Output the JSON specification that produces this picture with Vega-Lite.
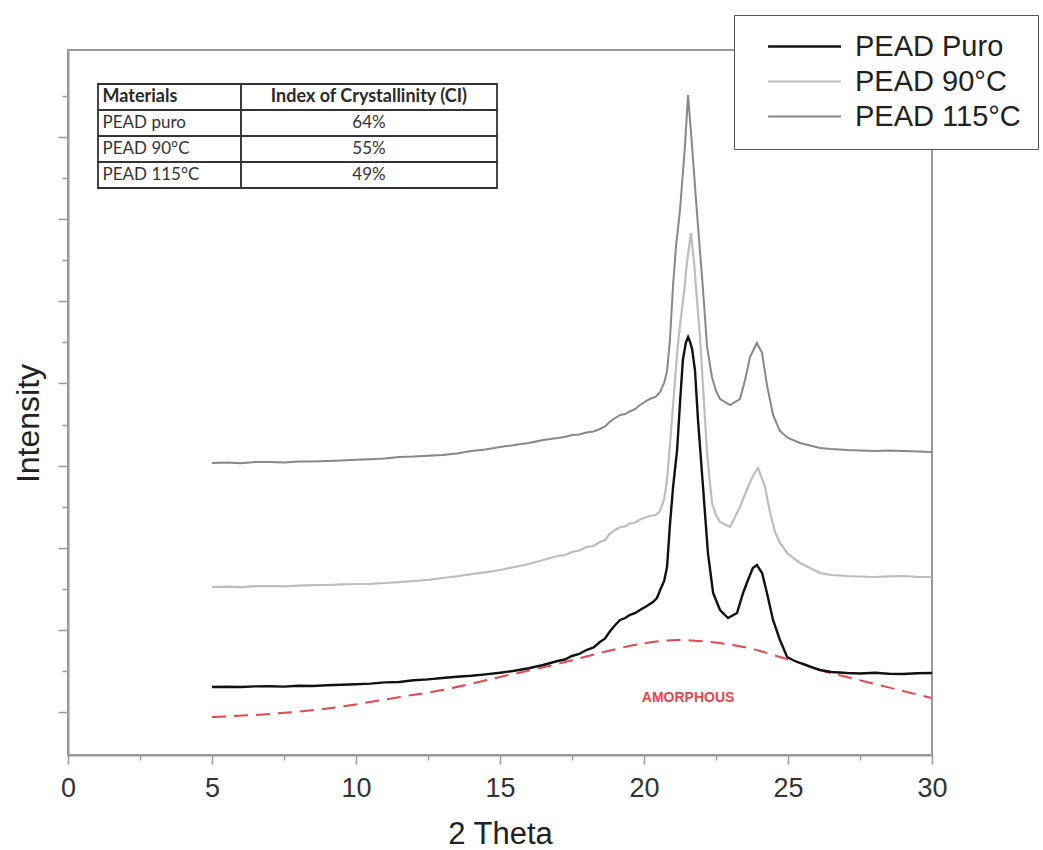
{
  "$schema": "https://vega.github.io/schema/vega-lite/v6.json",
  "width": 864,
  "height": 705,
  "autosize": "none",
  "padding": {"left": 68, "top": 50, "right": 111, "bottom": 95},
  "config": {
    "view": {"stroke": "#999999", "strokeWidth": 2},
    "font": "Liberation Sans"
  },
  "datasets": {
    "xrd": [
      {"series": "PEAD Puro", "theta": 5.0, "intensity": 680},
      {"series": "PEAD Puro", "theta": 5.5, "intensity": 683},
      {"series": "PEAD Puro", "theta": 6.0, "intensity": 680},
      {"series": "PEAD Puro", "theta": 6.5, "intensity": 686},
      {"series": "PEAD Puro", "theta": 7.0, "intensity": 688},
      {"series": "PEAD Puro", "theta": 7.5, "intensity": 684},
      {"series": "PEAD Puro", "theta": 8.0, "intensity": 692},
      {"series": "PEAD Puro", "theta": 8.5, "intensity": 690},
      {"series": "PEAD Puro", "theta": 9.0, "intensity": 698},
      {"series": "PEAD Puro", "theta": 9.5, "intensity": 702},
      {"series": "PEAD Puro", "theta": 10.0, "intensity": 708},
      {"series": "PEAD Puro", "theta": 10.5, "intensity": 714},
      {"series": "PEAD Puro", "theta": 11.0, "intensity": 726},
      {"series": "PEAD Puro", "theta": 11.5, "intensity": 730},
      {"series": "PEAD Puro", "theta": 12.0, "intensity": 748},
      {"series": "PEAD Puro", "theta": 12.5, "intensity": 756},
      {"series": "PEAD Puro", "theta": 13.0, "intensity": 770},
      {"series": "PEAD Puro", "theta": 13.5, "intensity": 782},
      {"series": "PEAD Puro", "theta": 14.0, "intensity": 792},
      {"series": "PEAD Puro", "theta": 14.5, "intensity": 806},
      {"series": "PEAD Puro", "theta": 15.0, "intensity": 822},
      {"series": "PEAD Puro", "theta": 15.5, "intensity": 842},
      {"series": "PEAD Puro", "theta": 16.0, "intensity": 868},
      {"series": "PEAD Puro", "theta": 16.5, "intensity": 900},
      {"series": "PEAD Puro", "theta": 17.0, "intensity": 940},
      {"series": "PEAD Puro", "theta": 17.25, "intensity": 955},
      {"series": "PEAD Puro", "theta": 17.5, "intensity": 990},
      {"series": "PEAD Puro", "theta": 17.75, "intensity": 1010},
      {"series": "PEAD Puro", "theta": 18.0, "intensity": 1050},
      {"series": "PEAD Puro", "theta": 18.25, "intensity": 1075},
      {"series": "PEAD Puro", "theta": 18.47, "intensity": 1130},
      {"series": "PEAD Puro", "theta": 18.65, "intensity": 1165},
      {"series": "PEAD Puro", "theta": 18.8, "intensity": 1230},
      {"series": "PEAD Puro", "theta": 19.0, "intensity": 1300},
      {"series": "PEAD Puro", "theta": 19.17, "intensity": 1350},
      {"series": "PEAD Puro", "theta": 19.35, "intensity": 1370},
      {"series": "PEAD Puro", "theta": 19.5, "intensity": 1400},
      {"series": "PEAD Puro", "theta": 19.7, "intensity": 1420},
      {"series": "PEAD Puro", "theta": 19.86, "intensity": 1450},
      {"series": "PEAD Puro", "theta": 20.1, "intensity": 1490},
      {"series": "PEAD Puro", "theta": 20.31, "intensity": 1530},
      {"series": "PEAD Puro", "theta": 20.45, "intensity": 1570},
      {"series": "PEAD Puro", "theta": 20.56, "intensity": 1650},
      {"series": "PEAD Puro", "theta": 20.7, "intensity": 1740},
      {"series": "PEAD Puro", "theta": 20.8, "intensity": 1880},
      {"series": "PEAD Puro", "theta": 20.9, "intensity": 2300},
      {"series": "PEAD Puro", "theta": 21.01, "intensity": 2680},
      {"series": "PEAD Puro", "theta": 21.15, "intensity": 3050},
      {"series": "PEAD Puro", "theta": 21.25, "intensity": 3520},
      {"series": "PEAD Puro", "theta": 21.35, "intensity": 3950},
      {"series": "PEAD Puro", "theta": 21.45, "intensity": 4120},
      {"series": "PEAD Puro", "theta": 21.53, "intensity": 4180},
      {"series": "PEAD Puro", "theta": 21.6, "intensity": 4130},
      {"series": "PEAD Puro", "theta": 21.67, "intensity": 4060},
      {"series": "PEAD Puro", "theta": 21.77, "intensity": 3850},
      {"series": "PEAD Puro", "theta": 21.875, "intensity": 3350},
      {"series": "PEAD Puro", "theta": 22.05, "intensity": 2680},
      {"series": "PEAD Puro", "theta": 22.22, "intensity": 2020},
      {"series": "PEAD Puro", "theta": 22.4, "intensity": 1620},
      {"series": "PEAD Puro", "theta": 22.64, "intensity": 1450},
      {"series": "PEAD Puro", "theta": 22.92, "intensity": 1370},
      {"series": "PEAD Puro", "theta": 23.23, "intensity": 1420},
      {"series": "PEAD Puro", "theta": 23.44, "intensity": 1620},
      {"series": "PEAD Puro", "theta": 23.61, "intensity": 1750},
      {"series": "PEAD Puro", "theta": 23.78, "intensity": 1870},
      {"series": "PEAD Puro", "theta": 23.92, "intensity": 1900},
      {"series": "PEAD Puro", "theta": 24.1, "intensity": 1820},
      {"series": "PEAD Puro", "theta": 24.27, "intensity": 1620},
      {"series": "PEAD Puro", "theta": 24.48, "intensity": 1350},
      {"series": "PEAD Puro", "theta": 24.72, "intensity": 1150},
      {"series": "PEAD Puro", "theta": 24.97, "intensity": 980},
      {"series": "PEAD Puro", "theta": 25.2, "intensity": 945},
      {"series": "PEAD Puro", "theta": 25.42, "intensity": 920},
      {"series": "PEAD Puro", "theta": 25.8, "intensity": 880},
      {"series": "PEAD Puro", "theta": 26.11, "intensity": 850},
      {"series": "PEAD Puro", "theta": 26.5, "intensity": 830},
      {"series": "PEAD Puro", "theta": 27.05, "intensity": 820},
      {"series": "PEAD Puro", "theta": 27.5, "intensity": 815},
      {"series": "PEAD Puro", "theta": 28.02, "intensity": 822},
      {"series": "PEAD Puro", "theta": 28.5, "intensity": 812},
      {"series": "PEAD Puro", "theta": 28.99, "intensity": 810},
      {"series": "PEAD Puro", "theta": 29.5, "intensity": 818},
      {"series": "PEAD Puro", "theta": 30.0, "intensity": 820},

      {"series": "PEAD 90°C", "theta": 5.0, "intensity": 1680},
      {"series": "PEAD 90°C", "theta": 5.5, "intensity": 1684},
      {"series": "PEAD 90°C", "theta": 6.0, "intensity": 1678},
      {"series": "PEAD 90°C", "theta": 6.5, "intensity": 1688},
      {"series": "PEAD 90°C", "theta": 7.0, "intensity": 1690},
      {"series": "PEAD 90°C", "theta": 7.5, "intensity": 1686},
      {"series": "PEAD 90°C", "theta": 8.0, "intensity": 1694},
      {"series": "PEAD 90°C", "theta": 8.5, "intensity": 1698},
      {"series": "PEAD 90°C", "theta": 9.0, "intensity": 1700},
      {"series": "PEAD 90°C", "theta": 9.5, "intensity": 1706},
      {"series": "PEAD 90°C", "theta": 10.0, "intensity": 1710},
      {"series": "PEAD 90°C", "theta": 10.5, "intensity": 1712},
      {"series": "PEAD 90°C", "theta": 11.0, "intensity": 1720},
      {"series": "PEAD 90°C", "theta": 11.5, "intensity": 1728},
      {"series": "PEAD 90°C", "theta": 12.0, "intensity": 1740},
      {"series": "PEAD 90°C", "theta": 12.5, "intensity": 1752},
      {"series": "PEAD 90°C", "theta": 13.0, "intensity": 1770},
      {"series": "PEAD 90°C", "theta": 13.5, "intensity": 1786},
      {"series": "PEAD 90°C", "theta": 14.0, "intensity": 1808},
      {"series": "PEAD 90°C", "theta": 14.5, "intensity": 1826},
      {"series": "PEAD 90°C", "theta": 15.0, "intensity": 1850},
      {"series": "PEAD 90°C", "theta": 15.5, "intensity": 1880},
      {"series": "PEAD 90°C", "theta": 16.0, "intensity": 1910},
      {"series": "PEAD 90°C", "theta": 16.5, "intensity": 1950},
      {"series": "PEAD 90°C", "theta": 17.0, "intensity": 1990},
      {"series": "PEAD 90°C", "theta": 17.25, "intensity": 2000},
      {"series": "PEAD 90°C", "theta": 17.5, "intensity": 2030},
      {"series": "PEAD 90°C", "theta": 17.75, "intensity": 2045},
      {"series": "PEAD 90°C", "theta": 18.0, "intensity": 2080},
      {"series": "PEAD 90°C", "theta": 18.25, "intensity": 2090},
      {"series": "PEAD 90°C", "theta": 18.47, "intensity": 2130},
      {"series": "PEAD 90°C", "theta": 18.65, "intensity": 2150},
      {"series": "PEAD 90°C", "theta": 18.8, "intensity": 2210},
      {"series": "PEAD 90°C", "theta": 19.0, "intensity": 2250},
      {"series": "PEAD 90°C", "theta": 19.17, "intensity": 2280},
      {"series": "PEAD 90°C", "theta": 19.35, "intensity": 2285},
      {"series": "PEAD 90°C", "theta": 19.5, "intensity": 2315},
      {"series": "PEAD 90°C", "theta": 19.7, "intensity": 2325},
      {"series": "PEAD 90°C", "theta": 19.86, "intensity": 2355},
      {"series": "PEAD 90°C", "theta": 20.2, "intensity": 2390},
      {"series": "PEAD 90°C", "theta": 20.4, "intensity": 2400},
      {"series": "PEAD 90°C", "theta": 20.56, "intensity": 2440},
      {"series": "PEAD 90°C", "theta": 20.7, "intensity": 2560},
      {"series": "PEAD 90°C", "theta": 20.8, "intensity": 2750},
      {"series": "PEAD 90°C", "theta": 20.97, "intensity": 3350},
      {"series": "PEAD 90°C", "theta": 21.15, "intensity": 4020},
      {"series": "PEAD 90°C", "theta": 21.25, "intensity": 4300},
      {"series": "PEAD 90°C", "theta": 21.39, "intensity": 4620},
      {"series": "PEAD 90°C", "theta": 21.49, "intensity": 4920},
      {"series": "PEAD 90°C", "theta": 21.63, "intensity": 5220},
      {"series": "PEAD 90°C", "theta": 21.74, "intensity": 4920},
      {"series": "PEAD 90°C", "theta": 21.84, "intensity": 4550},
      {"series": "PEAD 90°C", "theta": 21.94, "intensity": 4200},
      {"series": "PEAD 90°C", "theta": 22.05, "intensity": 3680},
      {"series": "PEAD 90°C", "theta": 22.19, "intensity": 3020},
      {"series": "PEAD 90°C", "theta": 22.36, "intensity": 2520},
      {"series": "PEAD 90°C", "theta": 22.5, "intensity": 2400},
      {"series": "PEAD 90°C", "theta": 22.64, "intensity": 2330},
      {"series": "PEAD 90°C", "theta": 22.99, "intensity": 2280},
      {"series": "PEAD 90°C", "theta": 23.33, "intensity": 2480},
      {"series": "PEAD 90°C", "theta": 23.61, "intensity": 2680},
      {"series": "PEAD 90°C", "theta": 23.8, "intensity": 2800},
      {"series": "PEAD 90°C", "theta": 23.96, "intensity": 2870},
      {"series": "PEAD 90°C", "theta": 24.2, "intensity": 2680},
      {"series": "PEAD 90°C", "theta": 24.38, "intensity": 2420},
      {"series": "PEAD 90°C", "theta": 24.55, "intensity": 2230},
      {"series": "PEAD 90°C", "theta": 24.72, "intensity": 2120},
      {"series": "PEAD 90°C", "theta": 25.0, "intensity": 2010},
      {"series": "PEAD 90°C", "theta": 25.42, "intensity": 1920},
      {"series": "PEAD 90°C", "theta": 26.11, "intensity": 1820},
      {"series": "PEAD 90°C", "theta": 26.5, "intensity": 1800},
      {"series": "PEAD 90°C", "theta": 27.05, "intensity": 1790},
      {"series": "PEAD 90°C", "theta": 27.5, "intensity": 1785},
      {"series": "PEAD 90°C", "theta": 28.02, "intensity": 1780},
      {"series": "PEAD 90°C", "theta": 28.5, "intensity": 1786},
      {"series": "PEAD 90°C", "theta": 28.99, "intensity": 1790},
      {"series": "PEAD 90°C", "theta": 29.5, "intensity": 1782},
      {"series": "PEAD 90°C", "theta": 30.0, "intensity": 1780},

      {"series": "PEAD 115°C", "theta": 5.0, "intensity": 2920},
      {"series": "PEAD 115°C", "theta": 5.5, "intensity": 2925},
      {"series": "PEAD 115°C", "theta": 6.0, "intensity": 2918},
      {"series": "PEAD 115°C", "theta": 6.5, "intensity": 2930},
      {"series": "PEAD 115°C", "theta": 7.0, "intensity": 2930},
      {"series": "PEAD 115°C", "theta": 7.5, "intensity": 2926},
      {"series": "PEAD 115°C", "theta": 8.0, "intensity": 2936},
      {"series": "PEAD 115°C", "theta": 8.5, "intensity": 2934},
      {"series": "PEAD 115°C", "theta": 9.0, "intensity": 2940},
      {"series": "PEAD 115°C", "theta": 9.5, "intensity": 2946},
      {"series": "PEAD 115°C", "theta": 10.0, "intensity": 2952},
      {"series": "PEAD 115°C", "theta": 10.5, "intensity": 2958},
      {"series": "PEAD 115°C", "theta": 11.0, "intensity": 2966},
      {"series": "PEAD 115°C", "theta": 11.5, "intensity": 2980},
      {"series": "PEAD 115°C", "theta": 12.0, "intensity": 2984},
      {"series": "PEAD 115°C", "theta": 12.5, "intensity": 2992},
      {"series": "PEAD 115°C", "theta": 13.0, "intensity": 3000},
      {"series": "PEAD 115°C", "theta": 13.5, "intensity": 3016},
      {"series": "PEAD 115°C", "theta": 14.0, "intensity": 3040},
      {"series": "PEAD 115°C", "theta": 14.5, "intensity": 3056},
      {"series": "PEAD 115°C", "theta": 15.0, "intensity": 3080},
      {"series": "PEAD 115°C", "theta": 15.5, "intensity": 3100},
      {"series": "PEAD 115°C", "theta": 16.0, "intensity": 3120},
      {"series": "PEAD 115°C", "theta": 16.5, "intensity": 3150},
      {"series": "PEAD 115°C", "theta": 17.0, "intensity": 3170},
      {"series": "PEAD 115°C", "theta": 17.25, "intensity": 3180},
      {"series": "PEAD 115°C", "theta": 17.5, "intensity": 3200},
      {"series": "PEAD 115°C", "theta": 17.75, "intensity": 3205},
      {"series": "PEAD 115°C", "theta": 18.0, "intensity": 3225},
      {"series": "PEAD 115°C", "theta": 18.25, "intensity": 3235},
      {"series": "PEAD 115°C", "theta": 18.47, "intensity": 3260},
      {"series": "PEAD 115°C", "theta": 18.65, "intensity": 3285},
      {"series": "PEAD 115°C", "theta": 18.8, "intensity": 3330},
      {"series": "PEAD 115°C", "theta": 19.0, "intensity": 3370},
      {"series": "PEAD 115°C", "theta": 19.17, "intensity": 3400},
      {"series": "PEAD 115°C", "theta": 19.35, "intensity": 3410},
      {"series": "PEAD 115°C", "theta": 19.5, "intensity": 3435},
      {"series": "PEAD 115°C", "theta": 19.7, "intensity": 3460},
      {"series": "PEAD 115°C", "theta": 19.86, "intensity": 3500},
      {"series": "PEAD 115°C", "theta": 20.2, "intensity": 3560},
      {"series": "PEAD 115°C", "theta": 20.4, "intensity": 3580},
      {"series": "PEAD 115°C", "theta": 20.56, "intensity": 3630},
      {"series": "PEAD 115°C", "theta": 20.7, "intensity": 3720},
      {"series": "PEAD 115°C", "theta": 20.8, "intensity": 3840},
      {"series": "PEAD 115°C", "theta": 20.9, "intensity": 4150},
      {"series": "PEAD 115°C", "theta": 21.01, "intensity": 4700},
      {"series": "PEAD 115°C", "theta": 21.11, "intensity": 5080},
      {"series": "PEAD 115°C", "theta": 21.25, "intensity": 5450},
      {"series": "PEAD 115°C", "theta": 21.42, "intensity": 6080},
      {"series": "PEAD 115°C", "theta": 21.53, "intensity": 6600},
      {"series": "PEAD 115°C", "theta": 21.67, "intensity": 6080},
      {"series": "PEAD 115°C", "theta": 21.84, "intensity": 5420},
      {"series": "PEAD 115°C", "theta": 21.94, "intensity": 5050},
      {"series": "PEAD 115°C", "theta": 22.05, "intensity": 4650},
      {"series": "PEAD 115°C", "theta": 22.19, "intensity": 4080},
      {"series": "PEAD 115°C", "theta": 22.36, "intensity": 3780},
      {"series": "PEAD 115°C", "theta": 22.5, "intensity": 3640},
      {"series": "PEAD 115°C", "theta": 22.64, "intensity": 3560},
      {"series": "PEAD 115°C", "theta": 22.99, "intensity": 3500},
      {"series": "PEAD 115°C", "theta": 23.33, "intensity": 3560},
      {"series": "PEAD 115°C", "theta": 23.51, "intensity": 3750},
      {"series": "PEAD 115°C", "theta": 23.68, "intensity": 3980},
      {"series": "PEAD 115°C", "theta": 23.92, "intensity": 4120},
      {"series": "PEAD 115°C", "theta": 24.1, "intensity": 4020},
      {"series": "PEAD 115°C", "theta": 24.27, "intensity": 3700},
      {"series": "PEAD 115°C", "theta": 24.48, "intensity": 3400},
      {"series": "PEAD 115°C", "theta": 24.72, "intensity": 3240},
      {"series": "PEAD 115°C", "theta": 25.0, "intensity": 3170},
      {"series": "PEAD 115°C", "theta": 25.42, "intensity": 3120},
      {"series": "PEAD 115°C", "theta": 26.11, "intensity": 3070},
      {"series": "PEAD 115°C", "theta": 26.5, "intensity": 3060},
      {"series": "PEAD 115°C", "theta": 27.05, "intensity": 3050},
      {"series": "PEAD 115°C", "theta": 27.5, "intensity": 3045},
      {"series": "PEAD 115°C", "theta": 28.02, "intensity": 3040},
      {"series": "PEAD 115°C", "theta": 28.5, "intensity": 3046},
      {"series": "PEAD 115°C", "theta": 28.99, "intensity": 3040},
      {"series": "PEAD 115°C", "theta": 29.5, "intensity": 3036},
      {"series": "PEAD 115°C", "theta": 30.0, "intensity": 3030}
    ],
    "amorph": [
      {"theta": 5.0, "intensity": 380},
      {"theta": 7.0, "intensity": 410},
      {"theta": 9.0, "intensity": 465},
      {"theta": 11.53, "intensity": 580},
      {"theta": 13.0, "intensity": 650},
      {"theta": 15.0, "intensity": 780},
      {"theta": 17.0, "intensity": 910},
      {"theta": 18.47, "intensity": 1020},
      {"theta": 19.86, "intensity": 1110},
      {"theta": 21.15, "intensity": 1150},
      {"theta": 22.29, "intensity": 1130},
      {"theta": 23.09, "intensity": 1100},
      {"theta": 24.03, "intensity": 1040},
      {"theta": 24.72, "intensity": 980},
      {"theta": 25.42, "intensity": 920},
      {"theta": 26.11, "intensity": 850},
      {"theta": 27.05, "intensity": 780},
      {"theta": 28.02, "intensity": 710},
      {"theta": 28.99, "intensity": 640},
      {"theta": 30.0, "intensity": 570}
    ],
    "table": [
      {"row": 0, "material": "Materials", "ci": "Index of Crystallinity (CI)"},
      {"row": 1, "material": "PEAD puro", "ci": "64%"},
      {"row": 2, "material": "PEAD 90°C", "ci": "55%"},
      {"row": 3, "material": "PEAD 115°C", "ci": "49%"}
    ]
  },
  "layer": [
    {
      "layer": [
        {
          "data": {"name": "amorph"},
          "mark": {"type": "line", "color": "#e3474f", "strokeWidth": 2, "strokeDash": [14, 8], "interpolate": "monotone"},
          "encoding": {
            "x": {"field": "theta", "type": "quantitative"},
            "y": {"field": "intensity", "type": "quantitative"}
          }
        },
        {
          "data": {"name": "xrd"},
          "mark": {"type": "line", "interpolate": "linear"},
          "encoding": {
            "x": {
              "field": "theta", "type": "quantitative",
              "scale": {"domain": [0, 30], "nice": false, "zero": false},
              "axis": {
                "title": "2 Theta",
                "values": [0, 2.5, 5, 7.5, 10, 12.5, 15, 17.5, 20, 22.5, 25, 27.5, 30],
                "labelExpr": "datum.value % 5 === 0 ? datum.label : ''",
                "labelFont": "Liberation Sans",
                "labelFontSize": 27,
                "labelColor": "#333333",
                "labelPadding": 11,
                "labelFlush": false,
                "labelOverlap": false,
                "tickSize": {"condition": {"test": "datum.value % 5 === 0", "value": 9}, "value": 5},
                "tickColor": "#999999",
                "tickWidth": 1.5,
                "domainColor": "#999999",
                "domainWidth": 2,
                "grid": false,
                "titleFont": "Liberation Sans",
                "titleFontSize": 31,
                "titleFontWeight": "normal",
                "titleColor": "#222222",
                "titleBaseline": "alphabetic",
                "titleY": 88
              }
            },
            "y": {
              "field": "intensity", "type": "quantitative",
              "scale": {"domain": [0, 7050], "nice": false, "zero": false},
              "axis": {
                "title": "Intensity",
                "values": [430, 841, 1251, 1662, 2073, 2484, 2894, 3305, 3716, 4126, 4537, 4948, 5358, 5769, 6180, 6590],
                "labels": false,
                "tickSize": {"condition": {"test": "indexof([430,1251,2073,2894,3716,4537,5358,6180], datum.value) >= 0", "value": 10}, "value": 6},
                "tickColor": "#999999",
                "tickWidth": 1.5,
                "domainColor": "#999999",
                "domainWidth": 2,
                "grid": false,
                "titleFont": "Liberation Sans",
                "titleFontSize": 32,
                "titleFontWeight": "normal",
                "titleColor": "#222222",
                "titleBaseline": "alphabetic",
                "titleAlign": "center",
                "titleAngle": -90,
                "titleX": -30,
                "titleY": 373
              }
            },
            "color": {
              "field": "series", "type": "nominal",
              "scale": {"domain": ["PEAD Puro", "PEAD 90°C", "PEAD 115°C"], "range": ["#111111", "#bdbdbd", "#888888"]},
              "legend": {
                "title": null,
                "orient": "none",
                "legendX": 666,
                "legendY": -35,
                "padding": 17,
                "strokeColor": "#555555",
                "fillColor": "#ffffff",
                "symbolType": "M0.24,0H7.19",
                "symbolSize": 441,
                "symbolStrokeWidth": 2.5,
                "labelFont": "Liberation Sans",
                "labelFontSize": 29,
                "labelColor": "#222222",
                "labelOffset": 75,
                "labelLimit": 400,
                "rowPadding": 5
              }
            },
            "strokeWidth": {
              "field": "series", "type": "nominal",
              "scale": {"domain": ["PEAD Puro", "PEAD 90°C", "PEAD 115°C"], "range": [2.4, 2, 2]},
              "legend": null
            },
            "order": {"field": "theta", "type": "quantitative"}
          }
        },
        {
          "data": {"values": [{"label": "AMORPHOUS", "theta": 21.53, "intensity": 570}]},
          "mark": {"type": "text", "color": "#e3474f", "fontWeight": "bold", "fontSize": 14, "font": "Liberation Sans", "baseline": "middle", "align": "center"},
          "encoding": {
            "x": {"field": "theta", "type": "quantitative"},
            "y": {"field": "intensity", "type": "quantitative"},
            "text": {"field": "label"}
          }
        }
      ]
    },
    {
      "data": {"name": "table"},
      "encoding": {
        "y": {
          "field": "row", "type": "ordinal",
          "scale": {"domain": [0, 1, 2, 3], "range": [34, 138], "paddingInner": 0, "paddingOuter": 0},
          "axis": null
        }
      },
      "layer": [
        {
          "mark": {"type": "rect", "fill": "#ffffff", "stroke": "#333333", "strokeWidth": 1.8},
          "encoding": {
            "x": {"datum": 1.042, "type": "quantitative"},
            "x2": {"datum": 6.007}
          }
        },
        {
          "mark": {"type": "rect", "fill": "#ffffff", "stroke": "#333333", "strokeWidth": 1.8},
          "encoding": {
            "x": {"datum": 6.007, "type": "quantitative"},
            "x2": {"datum": 14.896}
          }
        },
        {
          "transform": [{"filter": "datum.row == 0"}],
          "mark": {"type": "text", "font": "Lato", "fontSize": 18, "fontWeight": 700, "align": "left", "baseline": "middle", "color": "#2a2a2a"},
          "encoding": {
            "x": {"datum": 1.2, "type": "quantitative"},
            "text": {"field": "material"}
          }
        },
        {
          "transform": [{"filter": "datum.row == 0"}],
          "mark": {"type": "text", "font": "Lato", "fontSize": 18, "fontWeight": 700, "align": "center", "baseline": "middle", "color": "#2a2a2a"},
          "encoding": {
            "x": {"datum": 10.45, "type": "quantitative"},
            "text": {"field": "ci"}
          }
        },
        {
          "transform": [{"filter": "datum.row > 0"}],
          "mark": {"type": "text", "font": "Lato", "fontSize": 17, "align": "left", "baseline": "middle", "color": "#333333"},
          "encoding": {
            "x": {"datum": 1.2, "type": "quantitative"},
            "text": {"field": "material"}
          }
        },
        {
          "transform": [{"filter": "datum.row > 0"}],
          "mark": {"type": "text", "font": "Lato", "fontSize": 17, "align": "center", "baseline": "middle", "color": "#333333"},
          "encoding": {
            "x": {"datum": 10.45, "type": "quantitative"},
            "text": {"field": "ci"}
          }
        }
      ]
    }
  ],
  "resolve": {"scale": {"y": "independent"}}
}
